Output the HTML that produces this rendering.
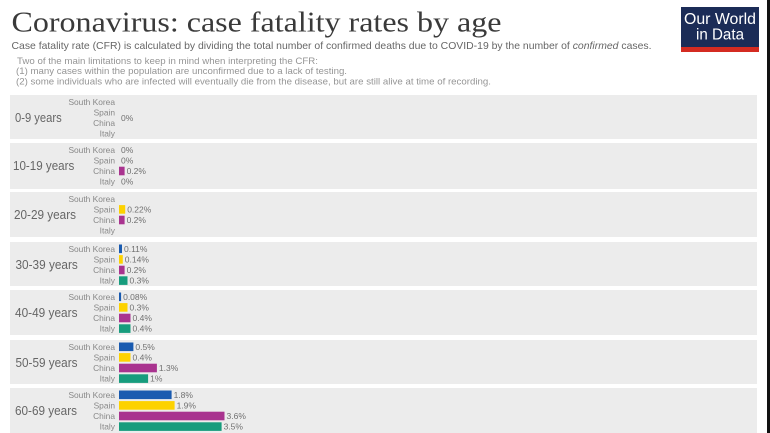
<!DOCTYPE html>
<html><head><meta charset="utf-8"><style>
html,body{margin:0;padding:0;background:#fff;}
svg{display:block;}
</style></head><body>
<svg width="770" height="433" viewBox="0 0 770 433" xmlns="http://www.w3.org/2000/svg" font-family="Liberation Sans, sans-serif">
<rect x="0" y="0" width="770" height="433" fill="#fff"/>
<rect x="767" y="0" width="3" height="433" fill="#111"/>
<text x="11.5" y="31.7" font-family="Liberation Serif, serif" font-size="29" fill="#3a3a3a" textLength="490" lengthAdjust="spacingAndGlyphs">Coronavirus: case fatality rates by age</text>
<text x="11.5" y="49" font-size="10.5" fill="#666" textLength="640" lengthAdjust="spacingAndGlyphs">Case fatality rate (CFR) is calculated by dividing the total number of confirmed deaths due to COVID-19 by the number of <tspan font-style="italic">confirmed</tspan> cases.</text>
<g font-size="9.5" fill="#959595">
<text x="17" y="64" textLength="301" lengthAdjust="spacingAndGlyphs">Two of the main limitations to keep in mind when interpreting the CFR:</text>
<text x="16" y="74" textLength="331" lengthAdjust="spacingAndGlyphs">(1) many cases within the population are unconfirmed due to a lack of testing.</text>
<text x="16" y="84.5" textLength="475" lengthAdjust="spacingAndGlyphs">(2) some individuals who are infected will eventually die from the disease, but are still alive at time of recording.</text>
</g>
<rect x="681" y="7" width="78" height="45" fill="#1b2c57"/>
<rect x="681" y="47" width="78" height="5" fill="#d42b21"/>
<text x="684" y="24" font-size="15.5" fill="#fff" textLength="72" lengthAdjust="spacingAndGlyphs">Our World</text>
<text x="696" y="39.5" font-size="15.5" fill="#fff" textLength="48" lengthAdjust="spacingAndGlyphs">in Data</text>

<g fill="#ececec">
<rect x="10" y="95" width="747" height="44"/>
<rect x="10" y="143" width="747" height="46"/>
<rect x="10" y="192" width="747" height="45"/>
<rect x="10" y="242" width="747" height="44"/>
<rect x="10" y="290" width="747" height="45"/>
<rect x="10" y="340" width="747" height="44"/>
<rect x="10" y="388" width="747" height="45"/>
</g>

<g font-size="12.5" fill="#666">
<text x="15" y="122" textLength="46.7" lengthAdjust="spacingAndGlyphs">0-9 years</text>
<text x="13" y="170" textLength="61.3" lengthAdjust="spacingAndGlyphs">10-19 years</text>
<text x="14" y="219" textLength="62" lengthAdjust="spacingAndGlyphs">20-29 years</text>
<text x="15.5" y="269" textLength="62.3" lengthAdjust="spacingAndGlyphs">30-39 years</text>
<text x="15" y="317" textLength="62.5" lengthAdjust="spacingAndGlyphs">40-49 years</text>
<text x="15.5" y="367" textLength="62" lengthAdjust="spacingAndGlyphs">50-59 years</text>
<text x="15" y="415" textLength="62" lengthAdjust="spacingAndGlyphs">60-69 years</text>
</g>

<g font-size="8.4" fill="#888" text-anchor="end">
<text x="115" y="104.8">South Korea</text><text x="115" y="115.4">Spain</text><text x="115" y="126">China</text><text x="115" y="136.6">Italy</text>
<text x="115" y="152.8">South Korea</text><text x="115" y="163.4">Spain</text><text x="115" y="174">China</text><text x="115" y="184.6">Italy</text>
<text x="115" y="201.8">South Korea</text><text x="115" y="212.4">Spain</text><text x="115" y="223">China</text><text x="115" y="233.6">Italy</text>
<text x="115" y="251.8">South Korea</text><text x="115" y="262.4">Spain</text><text x="115" y="273">China</text><text x="115" y="283.6">Italy</text>
<text x="115" y="299.8">South Korea</text><text x="115" y="310.4">Spain</text><text x="115" y="321">China</text><text x="115" y="331.6">Italy</text>
<text x="115" y="349.8">South Korea</text><text x="115" y="360.4">Spain</text><text x="115" y="371">China</text><text x="115" y="381.6">Italy</text>
<text x="115" y="397.8">South Korea</text><text x="115" y="408.4">Spain</text><text x="115" y="419">China</text><text x="115" y="429.6">Italy</text>
</g>

<g>
<rect x="119" y="166.7" width="5.6" height="8.6" fill="#a9338f"/>
<rect x="119" y="205.1" width="6.2" height="8.6" fill="#fdd200"/>
<rect x="119" y="215.7" width="5.6" height="8.6" fill="#a9338f"/>
<rect x="119" y="244.5" width="3.0" height="8.6" fill="#1a5bb0"/>
<rect x="119" y="255.1" width="3.8" height="8.6" fill="#fdd200"/>
<rect x="119" y="265.7" width="5.6" height="8.6" fill="#a9338f"/>
<rect x="119" y="276.3" width="8.5" height="8.6" fill="#179c7d"/>
<rect x="119" y="292.5" width="2.1" height="8.6" fill="#1a5bb0"/>
<rect x="119" y="303.1" width="8.5" height="8.6" fill="#fdd200"/>
<rect x="119" y="313.7" width="11.5" height="8.6" fill="#a9338f"/>
<rect x="119" y="324.3" width="11.5" height="8.6" fill="#179c7d"/>
<rect x="119" y="342.5" width="14.4" height="8.6" fill="#1a5bb0"/>
<rect x="119" y="353.1" width="11.5" height="8.6" fill="#fdd200"/>
<rect x="119" y="363.7" width="37.9" height="8.6" fill="#a9338f"/>
<rect x="119" y="374.3" width="29.1" height="8.6" fill="#179c7d"/>
<rect x="119" y="390.5" width="52.6" height="8.6" fill="#1a5bb0"/>
<rect x="119" y="401.1" width="55.6" height="8.6" fill="#fdd200"/>
<rect x="119" y="411.7" width="105.5" height="8.6" fill="#a9338f"/>
<rect x="119" y="422.3" width="102.6" height="8.6" fill="#179c7d"/>
</g>

<g font-size="8.5" fill="#707070">
<text x="121" y="121">0%</text>
<text x="121" y="152.8">0%</text>
<text x="121" y="163.4">0%</text>
<text x="126.6" y="174">0.2%</text>
<text x="121" y="184.6">0%</text>
<text x="127.2" y="212.4">0.22%</text>
<text x="126.6" y="223">0.2%</text>
<text x="124" y="251.8">0.11%</text>
<text x="124.8" y="262.4">0.14%</text>
<text x="126.6" y="273">0.2%</text>
<text x="129.5" y="283.6">0.3%</text>
<text x="123.1" y="299.8">0.08%</text>
<text x="129.5" y="310.4">0.3%</text>
<text x="132.5" y="321">0.4%</text>
<text x="132.5" y="331.6">0.4%</text>
<text x="135.4" y="349.8">0.5%</text>
<text x="132.5" y="360.4">0.4%</text>
<text x="158.9" y="371">1.3%</text>
<text x="150.1" y="381.6">1%</text>
<text x="173.6" y="397.8">1.8%</text>
<text x="176.6" y="408.4">1.9%</text>
<text x="226.5" y="419">3.6%</text>
<text x="223.6" y="429.6">3.5%</text>
</g>
</svg>
</body></html>
